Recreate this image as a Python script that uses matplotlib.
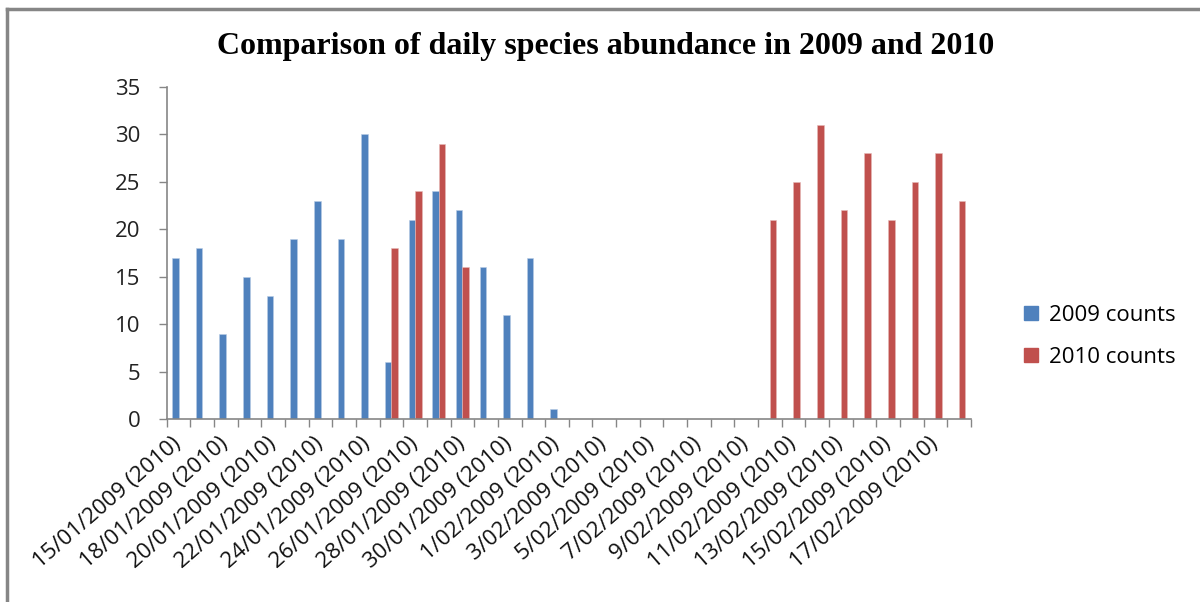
import matplotlib
matplotlib.use("Agg")
import matplotlib.pyplot as plt
from matplotlib.patches import Patch
from matplotlib.lines import Line2D
import numpy as np

# category labels (only every other one is shown on the axis)
dates = ["15/01", "16/01", "18/01", "19/01", "20/01", "21/01", "22/01", "23/01",
         "24/01", "25/01", "26/01", "27/01", "28/01", "29/01", "30/01", "31/01",
         "1/02", "2/02", "3/02", "4/02", "5/02", "6/02", "7/02", "8/02",
         "9/02", "10/02", "11/02", "12/02", "13/02", "14/02", "15/02", "16/02",
         "17/02", "18/02"]
labels = [d + "/2009 (2010)" for d in dates]

counts_2009 = [17, 18, 9, 15, 13, 19, 23, 19, 30, 6, 21, 24, 22, 16, 11, 17, 1,
               0, 0, 0, 0, 0, 0, 0, 0, 0, 0, 0, 0, 0, 0, 0, 0, 0]
counts_2010 = [0, 0, 0, 0, 0, 0, 0, 0, 0, 18, 24, 29, 16, 0, 0, 0, 0,
               0, 0, 0, 0, 0, 0, 0, 0, 21, 25, 31, 22, 28, 21, 25, 28, 23]

blue = "#4F81BD"
red = "#C0504D"
grey = "#868686"

fig = plt.figure(figsize=(12, 6.02), dpi=100)
ax = fig.add_axes([0.139, 0.304, 0.670, 0.552])

x = np.arange(len(dates))
w = 0.275
ax.bar(x - w / 2, counts_2009, w, color=blue, edgecolor="#B9CDE5", linewidth=0.4)
ax.bar(x + w / 2, counts_2010, w, color=red, edgecolor="#E6B9B8", linewidth=0.4)

ax.set_xlim(-0.5, len(dates) - 0.5)
ax.set_ylim(0, 35)
ax.set_yticks(range(0, 36, 5))

for s in ["top", "right"]:
    ax.spines[s].set_visible(False)
for s in ["left", "bottom"]:
    ax.spines[s].set_color(grey)
    ax.spines[s].set_linewidth(1.2)

font = "Open Sans"
fs = 16
ax.tick_params(axis="y", colors=grey, labelcolor="#222222", length=6, width=1,
               labelsize=fs, pad=13)
for t in ax.get_yticklabels():
    t.set_family(font)

# category boundaries as ticks, labels on every other category
ax.set_xticks(np.arange(-0.5, len(dates), 1.0))
ax.set_xticklabels([])
ax.tick_params(axis="x", which="major", colors=grey, length=6, width=1)
ax.set_xticks(x[::2], [labels[i] for i in x[::2]], minor=True)
ax.tick_params(axis="x", which="minor", length=0, pad=16, labelsize=fs,
               labelcolor="#111111")
for t in ax.get_xticklabels(minor=True):
    t.set_rotation(41)
    t.set_ha("right")
    t.set_va("center")
    t.set_rotation_mode("anchor")
    t.set_family(font)

fig.text(0.505, 0.923, "Comparison of daily species abundance in 2009 and 2010",
         ha="center", va="center", fontsize=23, fontweight="bold",
         family="Liberation Serif")

handles = [Patch(color=blue), Patch(color=red)]
leg = fig.legend(handles, ["2009 counts", "2010 counts"], loc="center left",
                 bbox_to_anchor=(0.837, 0.441), frameon=False,
                 prop={"family": font, "size": fs}, handlelength=0.6,
                 handleheight=0.6, handletextpad=0.5, labelspacing=0.95)

# outer chart border (left and top visible)
fig.add_artist(Line2D([0.006, 0.006], [0.0, 0.985], color=grey, lw=2.5,
                      transform=fig.transFigure))
fig.add_artist(Line2D([0.006, 1.0], [0.985, 0.985], color=grey, lw=2.5,
                      transform=fig.transFigure))

fig.savefig("out.png", dpi=100)
